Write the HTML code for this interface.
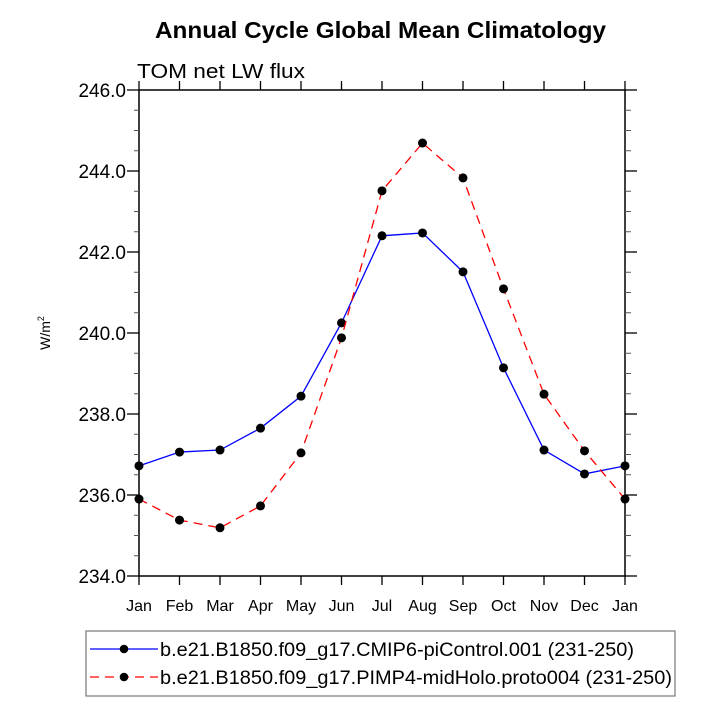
<!DOCTYPE html>
<html><head><meta charset="utf-8"><style>
html,body{margin:0;padding:0;background:#fff;}
svg{display:block;font-family:"Liberation Sans",Arial,sans-serif;}
</style></head><body>
<svg id="chart" width="715" height="715" viewBox="0 0 715 715" xmlns="http://www.w3.org/2000/svg">
<text x="155" y="38" font-size="23" font-weight="bold" textLength="451" lengthAdjust="spacingAndGlyphs">Annual Cycle Global Mean Climatology</text>
<text x="137" y="78" font-size="20" textLength="168" lengthAdjust="spacingAndGlyphs">TOM net LW flux</text>
<text transform="translate(50,333) rotate(-90)" text-anchor="middle" font-size="14">W/m<tspan font-size="9" dy="-6">2</tspan></text>
<g id="axes"></g>
<g id="series"></g>
<g>
<rect x="86" y="631" width="589" height="65" fill="#fff" stroke="#777" stroke-width="1.2"/>
<g>
<line x1="90" y1="649" x2="158" y2="649" stroke="#0000ff" stroke-width="1.2"/>
<circle cx="124" cy="649" r="4.3" fill="#000"/>
<text x="160" y="656" font-size="19.5" textLength="474" lengthAdjust="spacingAndGlyphs">b.e21.B1850.f09_g17.CMIP6-piControl.001 (231-250)</text>
</g>
<g>
<line x1="90" y1="677" x2="158" y2="677" stroke="#ff0000" stroke-width="1.2" stroke-dasharray="9,6"/>
<circle cx="124" cy="677" r="4.3" fill="#000"/>
<text x="160" y="684" font-size="19.5" textLength="512" lengthAdjust="spacingAndGlyphs">b.e21.B1850.f09_g17.PIMP4-midHolo.proto004 (231-250)</text>
</g>
</g>
</svg>
<script>
const months = ["Jan","Feb","Mar","Apr","May","Jun","Jul","Aug","Sep","Oct","Nov","Dec","Jan"];
const piControl = [236.72,237.06,237.11,237.65,238.44,240.25,242.40,242.47,241.51,239.14,237.11,236.52,236.72];
const midHolo = [235.90,235.38,235.19,235.73,237.04,239.88,243.51,244.69,243.83,241.09,238.49,237.09,235.90];
const yTicks = [234,236,238,240,242,244,246];
const yTickLabels = ["234.0","236.0","238.0","240.0","242.0","244.0","246.0"];

const L=139,R=625,T=90,B=576,yMin=234,yMax=246;
const xs=i=>L+(R-L)*i/(months.length-1);
const ys=v=>B-(B-T)*(v-yMin)/(yMax-yMin);
const NS="http://www.w3.org/2000/svg";
function mk(tag,attrs,parent){const e=document.createElementNS(NS,tag);for(const k in attrs)e.setAttribute(k,attrs[k]);parent.appendChild(e);return e;}
const ax=document.getElementById('axes');
const frame=mk('rect',{x:L,y:T,width:R-L,height:B-T,fill:'none',stroke:'#000','stroke-width':1.5},ax);


yTicks.forEach((v,i)=>{
  const y=ys(v);
  mk('line',{x1:L-12,y1:y,x2:L,y2:y,stroke:'#000','stroke-width':1.3},ax);
  mk('line',{x1:R,y1:y,x2:R+12,y2:y,stroke:'#000','stroke-width':1.3},ax);
  const t=mk('text',{x:L-13,y:y+7,'text-anchor':'end','font-size':19},ax);
  t.textContent=yTickLabels[i];
  
  
  if(i<yTicks.length-1){for(let k=1;k<4;k++){const ym=ys(v+k*0.5);
    mk('line',{x1:L-5,y1:ym,x2:L,y2:ym,stroke:'#555','stroke-width':1},ax);
    mk('line',{x1:R,y1:ym,x2:R+6,y2:ym,stroke:'#555','stroke-width':1},ax);}}
});
months.forEach((m,i)=>{
  const x=xs(i);
  mk('line',{x1:x,y1:B,x2:x,y2:B+9,stroke:'#000','stroke-width':1.3},ax);
  mk('line',{x1:x,y1:T-9,x2:x,y2:T,stroke:'#000','stroke-width':1.3},ax);
  const t=mk('text',{x:x,y:B+35,'text-anchor':'middle','font-size':16},ax);
  t.textContent=m;
  
  
});
const sg=document.getElementById('series');
function series(vals,color,dash,name){
  const g=mk('g',{},sg);
  
  
  const a={points:vals.map((v,i)=>xs(i)+','+ys(v)).join(' '),fill:'none',stroke:color,'stroke-width':1.3};
  if(dash)a['stroke-dasharray']=dash;
  mk('polyline',a,g);
  vals.forEach((v,i)=>{const c=mk('circle',{cx:xs(i),cy:ys(v),r:4.5,fill:'#000'},g);
    
    });
}
series(piControl,'#0000ff',null,'series-picontrol');
series(midHolo,'#ff0000','9,6','series-midholo');
</script>
</body></html>
